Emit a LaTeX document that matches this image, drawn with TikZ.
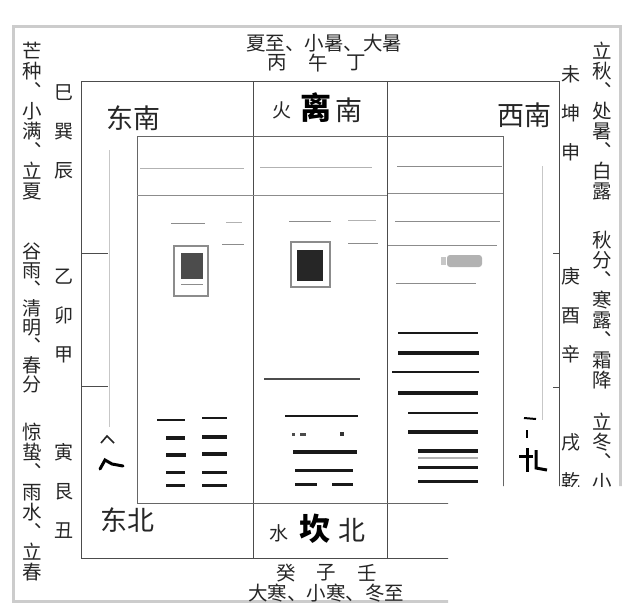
\documentclass[tikz,border=0pt]{standalone}
\usepackage{fontspec}
\newfontfamily\cjk{Noto Sans CJK SC}
\usetikzlibrary{positioning}

\begin{document}
\begin{tikzpicture}[x=1pt, y=-1pt]
\tikzstyle{every node}=[inner sep=0pt, align=center, text=black!85,
                        font=\cjk\fontsize{19.5}{20}\selectfont]
\tikzstyle{spaced}=[font=\cjk\fontsize{19}{39}\selectfont]
\tikzstyle{dir}=[font=\cjk\fontsize{27}{27}\selectfont]
\tikzstyle{gua}=[font=\cjk\bfseries\fontsize{31}{31}\selectfont, text=black]
\tikzstyle{elem}=[font=\cjk\fontsize{19}{19}\selectfont]
\tikzstyle{grid}=[draw=black!70, line width=1pt]
\tikzstyle{faint}=[draw=black!45, line width=0.9pt]
\tikzstyle{ghost}=[draw=black!22, line width=1pt]
\tikzstyle{bar}=[draw=black!90]
\useasboundingbox (0,0) rectangle (640,606);
\fill[white] (0,0) rectangle (640,606);
\begin{scope}
\clip (0,0) -- (640,0) -- (640,486) -- (448,486) -- (448,606) -- (0,606) -- cycle;
\draw[black!20, line width=3pt] (13,26) rectangle (620,601);

% solar terms and branches
\node (summer) at (324,43) {夏至、小暑、大暑};
\node (bing) at (277,63) {丙};
\node (wu)   at (318,63) {午};
\node (ding) at (356,63) {丁};
\node (winter) at (326,593) {大寒、小寒、冬至};
\node (gui)  at (286,573) {癸};
\node (zi)   at (326,573) {子};
\node (ren)  at (367,573) {壬};
\node (mangzhong) at (32,121) {芒\\种\\︑\\小\\满\\︑\\立\\夏};
\node (guyu) [font=\cjk\fontsize{19}{19}\selectfont] at (32,318) {谷\\雨\\︑\\清\\明\\︑\\春\\分};
\node (jingzhe) at (32,502) {惊\\蛰\\︑\\雨\\水\\︑\\立\\春};
\node (liqiu) at (602,121) {立\\秋\\︑\\处\\暑\\︑\\白\\露};
\node (qiufen) at (602,310) {秋\\分\\︑\\寒\\露\\︑\\霜\\降};
\node (lidong) at (602,452) {立\\冬\\︑\\小};
\node (sixun) [spaced] at (64,132) {巳\\巽\\辰};
\node (yimao) [spaced] at (64,316) {乙\\卯\\甲};
\node (yingen) [spaced] at (64,491) {寅\\艮\\丑};
\node (weikun) [spaced] at (571,113) {未\\坤\\申};
\node (gengyou) [spaced] at (571,315) {庚\\酉\\辛};
\node (xuqian) [spaced] at (571,462) {戌\\乾};

% grid
\draw[grid] (81,81) rectangle (559,558);
\draw[grid] (253,81) -- (253,558);
\draw[grid] (387,81) -- (387,558);
\draw[draw=black!60, line width=1pt] (137,136) rectangle (503,503);
\draw[grid] (81,253) -- (108,253);
\draw[grid] (81,386) -- (108,386);
\draw[grid] (553,253) -- (559,253);
\draw[grid] (553,387) -- (559,387);
\draw[ghost] (109,150) -- (109,427);
\draw[ghost] (542,166) -- (542,420);

\node (dongnan) [dir] at (133,118) {东南};
\node (xinan) [dir] at (524,115) {西南};
\node (dongbei) [dir] at (127,520) {东北};
\node (huo) [elem] at (282,110) {火};
\node (li) [gua] at (316,108) {离};
\node (nan) [dir] at (349,110) {南};
\node (shui) [elem] at (279,533) {水};
\node (kan) [gua] at (315,529) {坎};
\node (bei) [dir] at (352,530) {北};

% building
\draw[faint, draw=black!30] (140,168) -- (244,168);
\draw[faint, draw=black!30] (260,167) -- (372,167);
\draw[faint] (137,195) -- (387,195);
\draw[faint] (397,166) -- (502,166);
\draw[faint] (388,193) -- (503,193);
\draw[faint] (395,221) -- (500,221);
\draw[faint] (388,245) -- (497,245);
\draw[faint] (396,283) -- (476,283);
\draw[faint] (171,223) -- (205,223);
\draw[faint, draw=black!30] (226,222) -- (242,222);
\draw[faint] (222,244) -- (244,244);
\draw[faint] (289,221) -- (331,221);
\draw[faint, draw=black!30] (348,220) -- (376,220);
\draw[faint] (348,243) -- (378,243);
\draw[faint, line width=1.2pt] (174,246) rectangle (208,296);
\fill[black!70] (181,253) rectangle (203,279);
\draw[faint] (181,284) -- (203,284);
\draw[faint, line width=1.2pt] (291,242) rectangle (330,287);
\fill[black!85] (297,250) rectangle (323,281);
\draw[draw=black!70, line width=1.3pt] (264,379) -- (360,379);
\fill[black!30, rounded corners=3pt] (447,255) rectangle (482,267);
\fill[black!22] (441,257) rectangle (446,265);

% bars
\foreach \y/\a/\b/\w in {333/398/478/1.5, 353/398/479/4, 372/392/479/2.5,
    393/398/478/3.5, 413/408/478/2.5, 432/408/478/3.5, 451/418/478/4,
    467/418/478/3, 481/418/478/3, 420/157/185/2, 438/166/185/3.5,
    455/166/186/3.5, 472/166/185/3, 485/166/185/3, 418/202/227/2,
    437/202/227/3.5, 454/202/227/3.5, 472/202/227/3, 485/202/227/3,
    416/285/358/2.5, 452/293/357/4, 470/295/353/3, 484/295/317/3,
    484/332/353/3}
  \draw[bar, line width=\w pt] (\a,\y) -- (\b,\y);
\draw[black!30, line width=1.5pt] (418,458) -- (478,458);
\fill[black!70] (292,433) rectangle (295,436);
\fill[black!70] (300,433) rectangle (306,436);
\fill[black!80] (340,432) rectangle (344,436);

% marks
\draw[black!85, line width=1.6pt] (101,443) -- (107,436) -- (114,443);
\draw[black, line width=3pt, line cap=round] (100,469) -- (105,460) -- (112,464) -- (123,466);
\draw[black, line width=2pt] (524,418) -- (536,419);
\draw[black, line width=2pt] (527,430) -- (527,438);
\draw[black, line width=3pt] (519,456) -- (533,456);
\draw[black, line width=3pt] (527,448) -- (527,472);
\draw[black, line width=3pt] (536,450) -- (536,468) -- (547,470);
\end{scope}
\end{tikzpicture}
\end{document}
